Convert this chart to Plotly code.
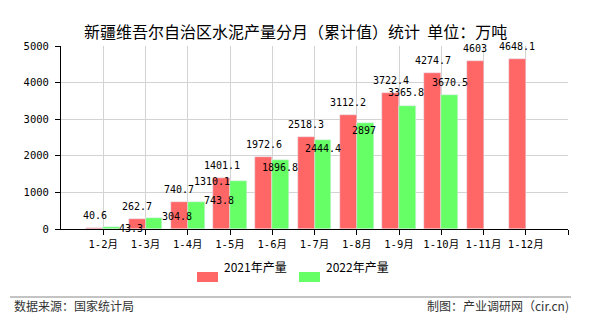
import plotly.graph_objects as go

# Monthly cumulative cement output, Xinjiang (10k tonnes)
categories = ["1-2月", "1-3月", "1-4月", "1-5月", "1-6月", "1-7月",
              "1-8月", "1-9月", "1-10月", "1-11月", "1-12月"]
output_2021 = [40.6, 262.7, 740.7, 1401.1, 1972.6, 2518.3,
               3112.2, 3722.4, 4274.7, 4603, 4648.1]
output_2022 = [43.3, 304.8, 743.8, 1310.1, 1896.8, 2444.4,
               2897, 3365.8, 3670.5]
y_ticks = [0, 1000, 2000, 3000, 4000, 5000]

RED = "rgb(255,102,102)"
GREEN = "rgb(102,255,102)"
LABEL_FONT = dict(family="DejaVu Sans Mono, Noto Sans CJK SC", size=10, color="#000")

# pixel nudges for the 2022 value labels (x, y) so they don't collide
green_label_shift = [(19, -1), (23, 1), (23, 1), (-26, 0), (-1, -8),
                     (0, -9), (-1, -8), (-1, 13), (0, 12)]

x_idx = list(range(len(categories)))

fig = go.Figure()
fig.add_trace(go.Bar(x=x_idx, y=output_2021, name="2021年产量",
                     marker_color=RED, width=0.4, offset=-0.4,
                     showlegend=False))
fig.add_trace(go.Bar(x=x_idx[:len(output_2022)], y=output_2022, name="2022年产量",
                     marker_color=GREEN, width=0.4, offset=0,
                     showlegend=False))

annotations = []
for i, v in enumerate(output_2021):
    annotations.append(dict(x=i - 0.2, y=v, xref="x", yref="y", text=f"{v:g}",
                            showarrow=False, yshift=12.5, font=LABEL_FONT))
for i, v in enumerate(output_2022):
    dx, dy = green_label_shift[i]
    annotations.append(dict(x=i + 0.2, y=v, xref="x", yref="y", text=f"{v:g}",
                            showarrow=False, xshift=dx, yshift=dy, font=LABEL_FONT))

W, H = 590, 330
L, R, T, B = 61, 22, 46, 101
pw, ph = W - L - R, H - T - B


def px(x):
    return (x - L) / pw


def py(y):
    return (H - B - y) / ph


# title
annotations.append(dict(x=px(295), y=py(17), xref="paper", yref="paper",
                        text="新疆维吾尔自治区水泥产量分月（累计值）统计  单位：万吨",
                        showarrow=False,
                        font=dict(family="Noto Sans CJK SC", size=16, color="#000")))

shapes = []
# legend swatches + labels
legend_items = [("2021年产量", RED, 197), ("2022年产量", GREEN, 299)]
for label, color, x0 in legend_items:
    shapes.append(dict(type="rect", xref="paper", yref="paper",
                       x0=px(x0), x1=px(x0 + 21), y0=py(282), y1=py(272),
                       fillcolor=color, line_width=0))
    annotations.append(dict(x=px(x0 + 25), y=py(277), xref="paper", yref="paper",
                            text=label, showarrow=False, xanchor="left",
                            font=dict(family="Noto Sans CJK SC", size=12, color="#000")))

# footer rule and credits
shapes.append(dict(type="line", xref="paper", yref="paper",
                   x0=px(10), x1=px(571), y0=py(297), y1=py(297),
                   line=dict(color="#888", width=1)))
annotations.append(dict(x=px(12), y=py(316), xref="paper", yref="paper",
                        text="数据来源：国家统计局", showarrow=False, xanchor="left",
                        font=dict(family="Noto Sans CJK SC", size=12, color="#333")))
annotations.append(dict(x=px(571), y=py(316), xref="paper", yref="paper",
                        text="制图：产业调研网（cir.cn)", showarrow=False, xanchor="right",
                        font=dict(family="Noto Sans CJK SC", size=12, color="#333")))

fig.update_layout(
    width=W, height=H,
    margin=dict(l=L, r=R, t=T, b=B, pad=0),
    plot_bgcolor="white", paper_bgcolor="white",
    barmode="overlay", bargap=0,
    annotations=annotations, shapes=shapes,
    showlegend=False,
)
fig.update_xaxes(
    range=[-1, 11], tickmode="array",
    tickvals=x_idx + [len(categories)], ticktext=categories + [""],
    showgrid=True, gridcolor="#d3d3d3", gridwidth=1,
    showline=True, linecolor="#000", linewidth=1,
    ticks="outside", ticklen=5, tickcolor="#000",
    tickfont=dict(family="DejaVu Sans Mono, Noto Sans CJK SC", size=10.5, color="#000"),
    zeroline=False, fixedrange=True,
)
fig.update_yaxes(
    range=[0, 5000], tickmode="array", tickvals=y_ticks,
    showgrid=True, gridcolor="#d3d3d3", gridwidth=1,
    showline=True, linecolor="#000", linewidth=1,
    ticks="outside", ticklen=5, tickcolor="#000", ticklabelstandoff=4,
    tickfont=dict(family="DejaVu Sans Mono", size=10.5, color="#000"),
    zeroline=False, fixedrange=True,
)

fig.write_html("out.html")
